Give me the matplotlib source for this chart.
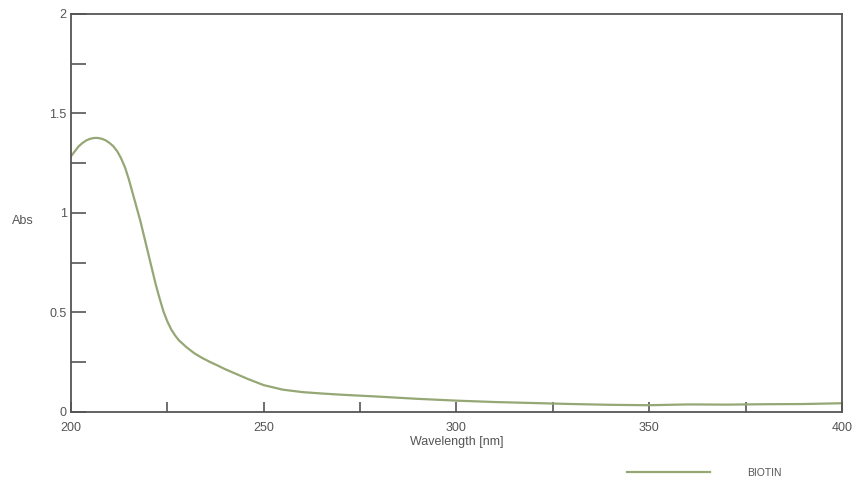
import matplotlib
matplotlib.use("Agg")
import matplotlib.pyplot as plt
from matplotlib.ticker import MultipleLocator, FormatStrFormatter

plt.rcParams['font.family'] = ['Liberation Sans', 'DejaVu Sans']

wavelength = [200, 201, 202, 203, 204, 205, 206, 207, 208, 209, 210, 211, 212, 213, 214,
              215, 216, 217, 218, 219, 220, 221, 222, 223, 224, 225, 226, 227, 228, 230,
              232, 234, 236, 238, 240, 243, 246, 250, 255, 260, 265, 270, 280, 290, 300,
              310, 320, 330, 340, 350, 360, 370, 380, 390, 400]
absorbance = [1.285, 1.31, 1.335, 1.352, 1.365, 1.373, 1.377, 1.377, 1.373, 1.365, 1.352, 1.335, 1.31, 1.275, 1.23,
              1.17, 1.10, 1.03, 0.96, 0.88, 0.80, 0.72, 0.64, 0.57, 0.505, 0.455, 0.415, 0.385, 0.36, 0.325,
              0.295, 0.272, 0.252, 0.234, 0.215, 0.19, 0.165, 0.135, 0.112, 0.10, 0.093, 0.087, 0.077, 0.066, 0.057,
              0.05, 0.045, 0.04, 0.036, 0.034, 0.038, 0.037, 0.039, 0.04, 0.044]

series_label = "BIOTIN"
line_color = "#95a775"
axis_color = "#555555"

fig = plt.figure(figsize=(8.53, 4.79), dpi=100)
ax = fig.add_axes([0.0832, 0.1399, 0.9038, 0.8309])
line, = ax.plot(wavelength, absorbance, color=line_color, lw=1.6, label=series_label)

ax.set_xlim(200, 400)
ax.set_ylim(0, 2)
ax.xaxis.set_major_locator(MultipleLocator(50))
ax.xaxis.set_minor_locator(MultipleLocator(25))
ax.yaxis.set_major_locator(MultipleLocator(0.5))
ax.yaxis.set_minor_locator(MultipleLocator(0.25))
ax.yaxis.set_major_formatter(FormatStrFormatter('%g'))
ax.tick_params(which='both', direction='in', width=1.2, color=axis_color,
               labelcolor=axis_color, labelsize=9)
ax.tick_params(axis='y', which='both', length=11, pad=3)
ax.tick_params(axis='x', which='both', length=7, pad=7)
for s in ax.spines.values():
    s.set_color(axis_color)
    s.set_linewidth(1.3)

ax.set_xlabel("Wavelength [nm]", color=axis_color, fontsize=9, labelpad=2)
fig.text(12 / 853, 1 - 221 / 479, "Abs", color=axis_color, fontsize=9, ha='left', va='center')

fig.legend(handles=[line], labels=[series_label], loc='center', bbox_to_anchor=(704 / 853, 1 - 473 / 479),
           frameon=False, fontsize=7.5, handlelength=8, handletextpad=3.5, labelcolor=axis_color)

fig.savefig("out.png", dpi=100)
